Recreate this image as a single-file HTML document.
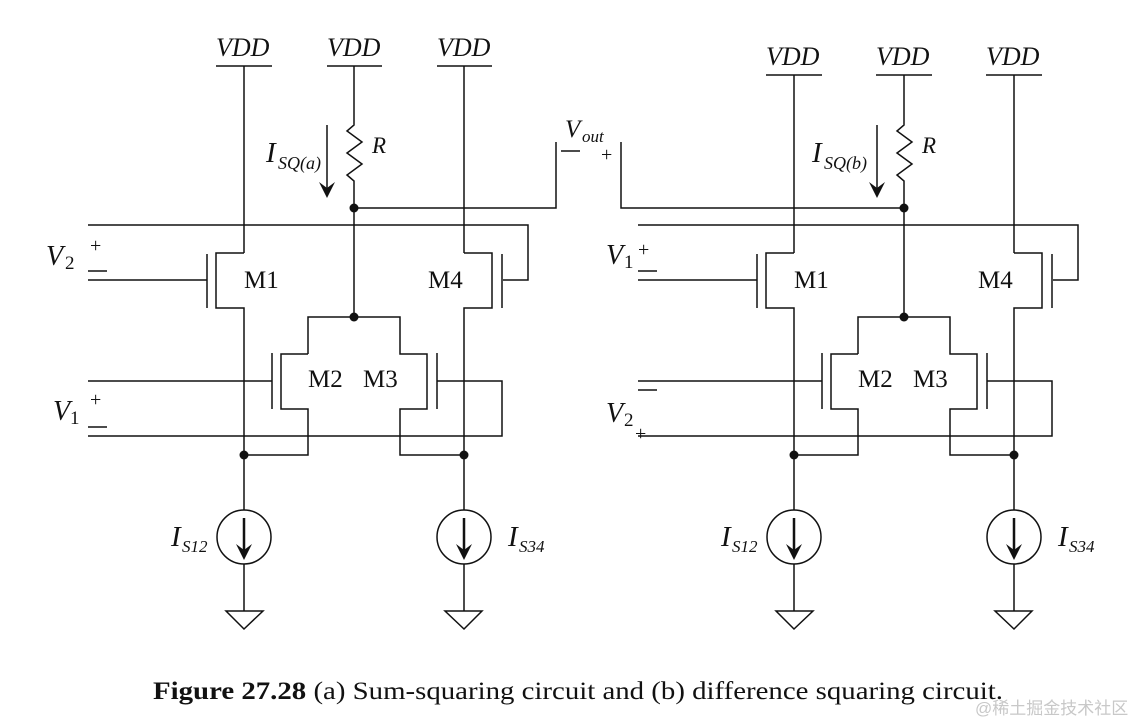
<!DOCTYPE html>
<html><head><meta charset="utf-8"><style>
html,body{margin:0;padding:0;background:#fff;}
svg{display:block;}
text{font-family:"Liberation Serif",serif;fill:#111;}
.i{font-style:italic;}
</style></head><body>
<svg width="1134" height="723" viewBox="0 0 1134 723" xmlns="http://www.w3.org/2000/svg">
<defs>
<g id="core" fill="none" stroke="#111" stroke-width="1.5">
  <path d="M244 253 H216 V308 H244 V510"/>
  <path d="M464 253 H492 V308 H464 V510"/>
  <path d="M354 122 V125 L347 131 L362 142 L347 153 L362 164 L347 175 L354 181 V317"/>
  <path d="M88 225 H528 V280 H503"/>
  <path d="M88 280 H207 M207 254 V308 M502 254 V308"/>
  <path d="M308 354 V317 H400 V354 H427 V409 H400 V455 H464"/>
  <path d="M308 354 H281 V409 H308 V455 H244"/>
  <path d="M272 353 V409 M437 353 V409"/>
  <path d="M88 381 H272 M437 381 H502 V436 H88"/>
  <circle cx="244" cy="537" r="27"/>
  <circle cx="464" cy="537" r="27"/>
  <path d="M244 564 V611 M464 564 V611"/>
  <path d="M226 611 H263 L244 629 Z M445 611 H482 L464 629 Z"/>
  <path d="M244 518 V552 M464 518 V552" stroke-width="2.5"/>
  <path d="M327 125 V196"/>
</g>
<g id="dots" fill="#111">
  <circle cx="354" cy="208" r="4.5"/><circle cx="354" cy="317" r="4.5"/>
  <circle cx="244" cy="455" r="4.5"/><circle cx="464" cy="455" r="4.5"/>
  <path d="M236 544 L244 560 L252 544 L244 550 Z"/>
  <path d="M456 544 L464 560 L472 544 L464 550 Z"/>
  <path d="M319 182 L327 198 L335 182 L327 188 Z"/>
</g>
</defs>

<use href="#core"/><use href="#dots"/>
<use href="#core" transform="translate(550,0)"/><use href="#dots" transform="translate(550,0)"/>

<g fill="none" stroke="#111" stroke-width="1.5">
  <path d="M216 66 H272 M327 66 H382 M437 66 H492"/>
  <path d="M244 66 V253 M464 66 V253 M354 66 V122"/>
  <path d="M766 75 H822 M876 75 H932 M986 75 H1042"/>
  <path d="M794 75 V253 M1014 75 V253 M904 75 V122"/>
  <path d="M354 208 H556 V142"/>
  <path d="M904 208 H621 V142"/>
  <path d="M88 271 H107 M88 427 H107"/>
  <path d="M638 271 H657 M638 390 H657"/>
  <path d="M561 151 H580"/>
</g>

<g class="i" font-size="26">
  <text x="216" y="56">VDD</text>
  <text x="327" y="56">VDD</text>
  <text x="437" y="56">VDD</text>
  <text x="766" y="65">VDD</text>
  <text x="876" y="65">VDD</text>
  <text x="986" y="65">VDD</text>
</g>

<g font-size="25">
  <text x="244" y="288">M1</text><text x="428" y="288">M4</text>
  <text x="308" y="387">M2</text><text x="363" y="387">M3</text>
  <text x="794" y="288">M1</text><text x="978" y="288">M4</text>
  <text x="858" y="387">M2</text><text x="913" y="387">M3</text>
</g>

<text class="i" x="372" y="153" font-size="23">R</text>
<text class="i" x="922" y="153" font-size="23">R</text>
<text class="i" x="266" y="162" font-size="29">I</text>
<text class="i" x="278" y="169" font-size="18">SQ(a)</text>
<text class="i" x="812" y="162" font-size="29">I</text>
<text class="i" x="824" y="169" font-size="18">SQ(b)</text>

<text class="i" x="171" y="546" font-size="29">I</text>
<text class="i" x="182" y="552" font-size="17">S12</text>
<text class="i" x="508" y="546" font-size="29">I</text>
<text class="i" x="519" y="552" font-size="17">S34</text>
<text class="i" x="721" y="546" font-size="29">I</text>
<text class="i" x="732" y="552" font-size="17">S12</text>
<text class="i" x="1058" y="546" font-size="29">I</text>
<text class="i" x="1069" y="552" font-size="17">S34</text>

<text class="i" x="565" y="137" font-size="25">V</text>
<text class="i" x="582" y="142" font-size="17">out</text>
<text x="601" y="161" font-size="20">+</text>

<text class="i" x="46" y="265" font-size="28">V</text><text x="65" y="269" font-size="19">2</text>
<text x="90" y="252" font-size="20">+</text>
<text class="i" x="53" y="420" font-size="28">V</text><text x="70" y="424" font-size="19">1</text>
<text x="90" y="406" font-size="20">+</text>
<text class="i" x="606" y="264" font-size="28">V</text><text x="624" y="268" font-size="19">1</text>
<text x="638" y="256" font-size="20">+</text>
<text class="i" x="606" y="422" font-size="28">V</text><text x="624" y="426" font-size="19">2</text>
<text x="635" y="440" font-size="20">+</text>

<text x="153" y="699" font-size="25" textLength="850" lengthAdjust="spacingAndGlyphs"><tspan font-weight="bold">Figure 27.28</tspan><tspan>  (a) Sum-squaring circuit and (b) difference squaring circuit.</tspan></text>
<text x="975" y="714" font-size="17" style="font-family:'Liberation Sans','Noto Sans CJK SC',sans-serif;fill:#c8c8c8">@稀土掘金技术社区</text>
</svg>
</body></html>
